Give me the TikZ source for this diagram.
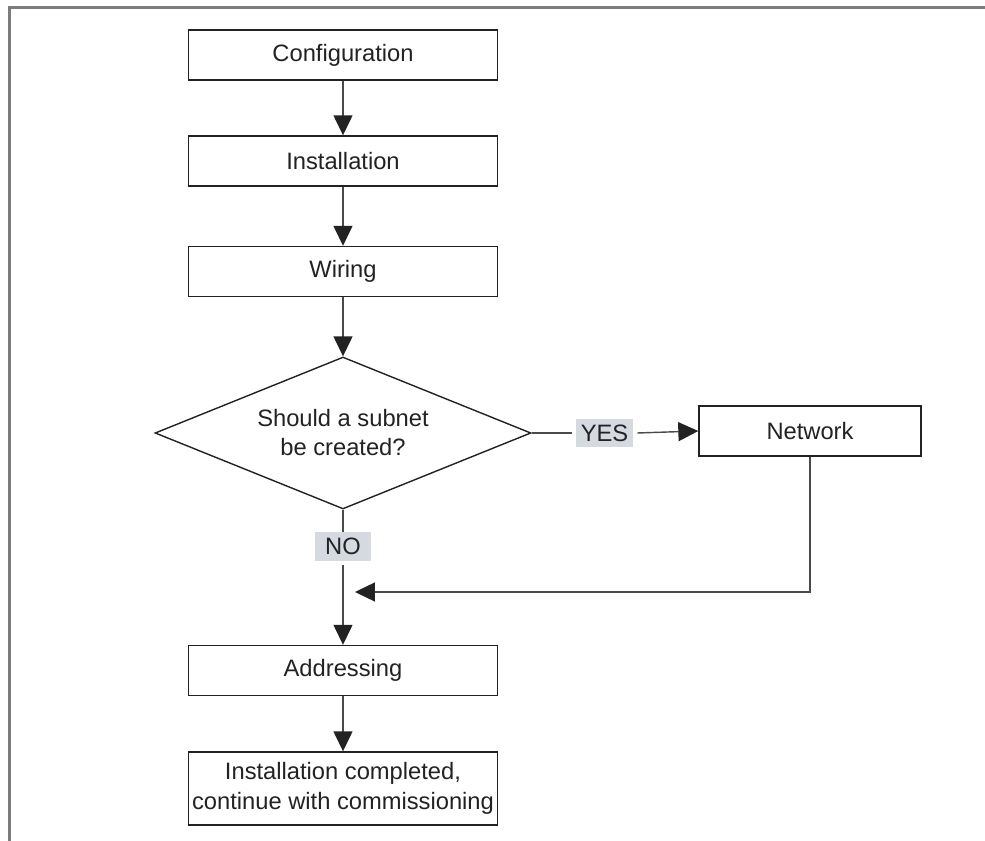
\documentclass[tikz,border=0pt]{standalone}
\usepackage{fontspec}
\setmainfont{Liberation Sans}
\usetikzlibrary{shapes.geometric,arrows.meta}
\definecolor{inkdark}{HTML}{222222}
\definecolor{linegray}{HTML}{4A4A4A}
\definecolor{framegray}{HTML}{7C7C7C}
\definecolor{tagfill}{HTML}{D5D9E0}
\begin{document}
\begin{tikzpicture}[x=0.02cm,y=-0.02cm,
    stepbox/.style={draw=inkdark,line width=0.8pt,minimum width=6.18cm,minimum height=1cm,
      inner sep=2pt,align=center,text=inkdark,font=\fontsize{13.5}{17}\selectfont},
    askbox/.style={diamond,draw=inkdark,line width=0.8pt,aspect=2.47,minimum width=7.52cm,
      minimum height=3.04cm,inner sep=0pt,align=center,text=inkdark,font=\fontsize{13.5}{16.5}\selectfont},
    tag/.style={fill=tagfill,minimum width=1.14cm,minimum height=0.57cm,inner sep=0pt,
      text=inkdark,font=\fontsize{13.5}{16}\selectfont},
    flow/.style={draw=linegray,line width=0.8pt},
    flowto/.style={flow,-{Triangle[length=0.4cm,width=0.38cm]},arrows={[color=inkdark]}}]
  \useasboundingbox (0,0) rectangle (985,841);
  \draw[framegray,line width=1.3pt] (9.5,841) -- (9.5,7.5) -- (985,7.5);
  % boxes
  \node[stepbox] (config) at (343,55) {Configuration};
  \node[stepbox] (install) at (343,161) {Installation};
  \node[stepbox] (wiring) at (343,271.5) {Wiring};
  \node[askbox] (subnet) at (343,433) {Should a subnet\\be created?};
  \node[stepbox,minimum width=4.44cm] (network) at (810,431) {Network};
  \node[stepbox] (addressing) at (343,670.5) {Addressing};
  \node[stepbox,minimum height=1.46cm] (done) at (343,788.5) {Installation completed,\\continue with commissioning};
  % labels
  \node[tag] (yes) at (604.5,433) {YES};
  \node[tag] (no) at (343,546.5) {NO};
  \coordinate (merge) at (355,592);
  % connectors
  \draw[flowto] (config) -- (install);
  \draw[flowto] (install) -- (wiring);
  \draw[flowto] (wiring) -- (subnet.north);
  \draw[flow] (subnet.east) -- ([xshift=-0.08cm]yes.west);
  \draw[flowto] ([xshift=0.08cm]yes.east) -- (network.west);
  \draw[flow] (subnet.south) -- (no.north);
  \draw[flowto] ([yshift=-0.08cm]no.south) -- (addressing.north);
  \draw[flowto] (network.south) |- (merge);
  \draw[flowto] (addressing) -- (done);
\end{tikzpicture}
\end{document}
